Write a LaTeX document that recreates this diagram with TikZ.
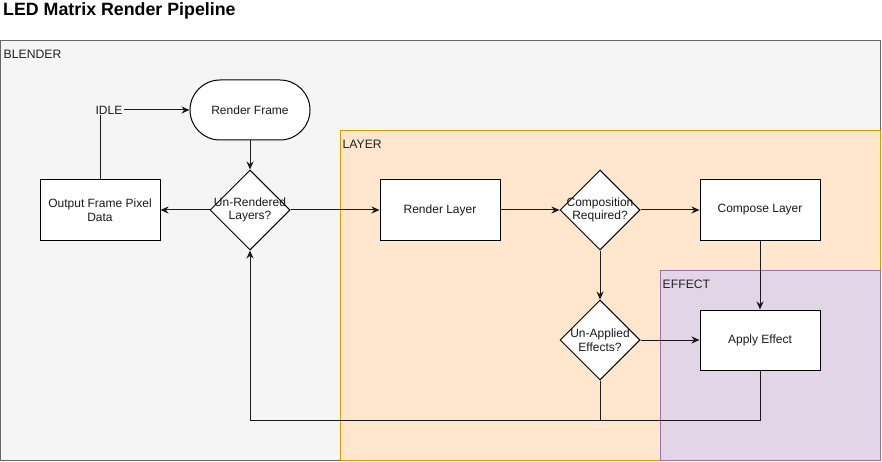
\documentclass[tikz,border=0pt]{standalone}
\usepackage{fontspec}
\setmainfont{Liberation Sans}
\usetikzlibrary{shapes.geometric,arrows.meta}
\definecolor{blenderfill}{HTML}{F5F5F5}
\definecolor{blenderline}{HTML}{666666}
\definecolor{layerfill}{HTML}{FFE6CC}
\definecolor{layerline}{HTML}{D79B00}
\definecolor{effectfill}{HTML}{E1D5E7}
\definecolor{effectline}{HTML}{9673A6}
\definecolor{txt}{HTML}{1A1A1A}
\definecolor{grouptxt}{HTML}{222222}
\begin{document}
\begin{tikzpicture}[x=1pt,y=-1pt,
  every node/.style={font=\fontsize{12}{13.5}\selectfont, text=txt},
  procbox/.style={draw=black, fill=white, line width=1pt, minimum width=120pt, minimum height=60pt, inner sep=0pt, align=center},
  termbox/.style={draw=black, fill=white, line width=1pt, rounded corners=30pt, minimum width=120pt, minimum height=60pt, inner sep=0pt},
  decide/.style={draw=black, fill=white, line width=1pt, diamond, aspect=1, minimum width=80pt, minimum height=80pt, inner sep=0pt},
  decidetext/.style={inner sep=0pt, align=center},
  flow/.style={draw=txt, line width=1pt, -{Stealth[length=8pt,width=7pt]}},
  plain/.style={draw=txt, line width=1pt},
  grouplabel/.style={anchor=north west, inner sep=0pt, font=\fontsize{12.2}{13.5}\selectfont, text=grouptxt}
]
\useasboundingbox (0,0) rectangle (882,462);
% title
\node[anchor=west, inner sep=0pt, font=\bfseries\fontsize{17.8}{20}\selectfont, text=black] (title) at (3,11) {LED Matrix Render Pipeline};
% containers
\fill[blenderfill] (0.5,40.5) rectangle (880.5,460.5);
\draw[blenderline, line width=1pt] (0.5,40.5) rectangle (880.5,460.5);
\node[grouplabel] (lblblender) at (3.5,49.5) {BLENDER};
\fill[layerfill] (340.5,130.5) rectangle (880.5,460.5);
\draw[layerline, line width=1pt] (340.5,130.5) rectangle (880.5,460.5);
\node[grouplabel] (lbllayer) at (342.5,139.5) {LAYER};
\fill[effectfill] (660.5,270.5) rectangle (880.5,460.5);
\draw[effectline, line width=1pt] (660.5,270.5) rectangle (880.5,460.5);
\node[grouplabel] (lbleffect) at (662.5,279.5) {EFFECT};
% nodes
\node[inner sep=1pt, fill=blenderfill] (idle) at (109,110) {IDLE};
\node[termbox] (frame) at (250,110) {Render Frame};
\node[decide] (unrend) at (250,210) {};
\node[decidetext] (unrendtxt) at (unrend.center) {Un-Rendered\\Layers?};
\node[procbox] (output) at (100,210) {Output Frame Pixel\\Data};
\node[procbox] (rlayer) at (440,210) {Render Layer};
\node[decide] (comp) at (600,210) {};
\node[decidetext] (comptxt) at (comp.center) {Composition\\Required?};
\node[procbox] (clayer) at (760,210) {Compose Layer};
\node[decide] (unapp) at (600,340) {};
\node[decidetext] (unapptxt) at (unapp.center) {Un-Applied\\Effects?};
\node[procbox] (apply) at (760,340) {Apply Effect};
\coordinate (loopl) at (250,420);
\coordinate (loopm) at (600,420);
\coordinate (loopr) at (760,420);
% connectors
\draw[flow] (idle.east) -- (frame.west);
\draw[plain] (output.north) -- (output.north |- idle.south);
\draw[flow] (frame.south) -- (unrend.north);
\draw[flow] (unrend.west) -- (output.east);
\draw[flow] (unrend.east) -- (rlayer.west);
\draw[flow] (rlayer.east) -- (comp.west);
\draw[flow] (comp.east) -- (clayer.west);
\draw[flow] (comp.south) -- (unapp.north);
\draw[flow] (clayer.south) -- (apply.north);
\draw[flow] (unapp.east) -- (apply.west);
\draw[plain] (apply.south) -- (loopr) -- (loopm);
\draw[flow] (unapp.south) -- (loopm) -- (loopl) -- (unrend.south);
\end{tikzpicture}
\end{document}
